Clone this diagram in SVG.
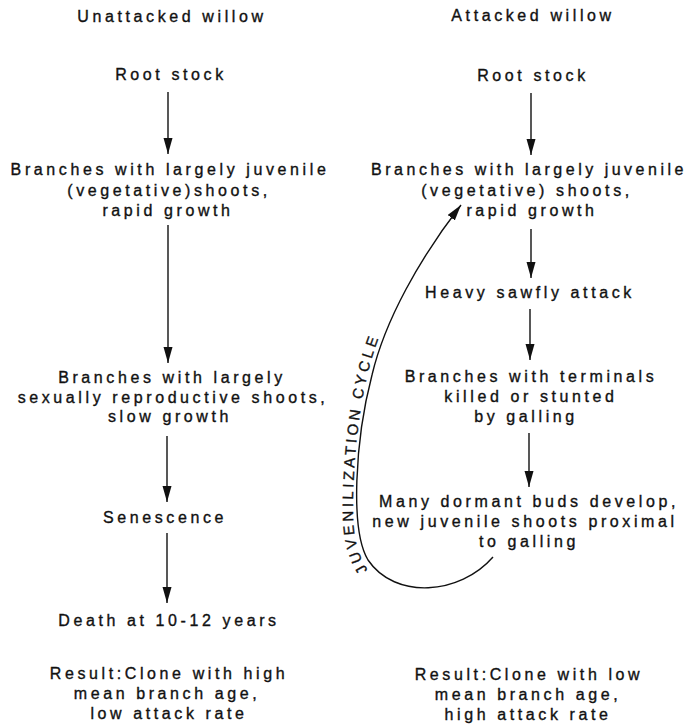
<svg xmlns="http://www.w3.org/2000/svg" xmlns:xlink="http://www.w3.org/1999/xlink" width="687" height="724" viewBox="0 0 687 724">
<style>
  text { font-family: "Liberation Sans", Arial, Helvetica, sans-serif; font-size: 16px; letter-spacing: 3.6px; fill: #111; stroke: #111; stroke-width: 0.35px; text-anchor: middle; }
  .lbl { font-size: 15px; letter-spacing: 3.3px; text-anchor: start; }
  .tight { letter-spacing: 3.5px; }
  .arr { stroke: #111; stroke-width: 1.4; fill: none; marker-end: url(#ah); }
</style>
<defs>
  <marker id="ah" markerUnits="userSpaceOnUse" markerWidth="18" markerHeight="10" refX="16" refY="4.5" orient="auto">
    <path d="M0,0 L16,4.5 L0,9 z" fill="#111"/>
  </marker>
  <path id="cyclePath" d="M 376,579 C 362,567 353,545 353,510 C 353,460 359,410 368,372 C 372,357 376,345 381,332 C 384,325 387,318 390,312"/>
</defs>
<rect width="687" height="724" fill="#fff"/>

<g id="connectors">
  <line class="arr" x1="168" y1="92" x2="168" y2="154"/>
  <line class="arr" x1="168" y1="225" x2="168" y2="363"/>
  <line class="arr" x1="167" y1="436" x2="167" y2="502"/>
  <line class="arr" x1="167" y1="533" x2="167" y2="603"/>
  <line class="arr" x1="531" y1="93" x2="531" y2="155"/>
  <line class="arr" x1="531" y1="229" x2="531" y2="278"/>
  <line class="arr" x1="530" y1="309" x2="530" y2="360"/>
  <line class="arr" x1="529" y1="433" x2="529" y2="487"/>
  <path id="cycle" class="arr" d="M 493,557 C 460,595 395,600 368,560 C 350,530 355,440 372,375 C 385,320 420,258 461,205"/>
  <text class="lbl"><textPath xlink:href="#cyclePath" startOffset="12">JUVENILIZATION CYCLE</textPath></text>
</g>

<g id="left-title"><text x="172" y="22">Unattacked willow</text></g>
<g id="left-root"><text x="171" y="80">Root stock</text></g>
<g id="left-juvenile">
  <text x="170" y="175">Branches with largely juvenile</text>
  <text x="169" y="196">(vegetative)shoots,</text>
  <text x="168" y="216">rapid growth</text>
</g>
<g id="left-reproductive">
  <text x="172" y="383">Branches with largely</text>
  <text x="173" y="403">sexually reproductive shoots,</text>
  <text x="170" y="422">slow growth</text>
</g>
<g id="left-senescence"><text x="165" y="523">Senescence</text></g>
<g id="left-death"><text x="169" y="626">Death at 10-12 years</text></g>
<g id="left-result">
  <text x="169" y="679">Result:Clone with high</text>
  <text x="167" y="699">mean branch age,</text>
  <text x="169" y="719">low attack rate</text>
</g>

<g id="right-title"><text x="533" y="21">Attacked willow</text></g>
<g id="right-root"><text x="533" y="81">Root stock</text></g>
<g id="right-juvenile">
  <text class="tight" x="529" y="175">Branches with largely juvenile</text>
  <text x="527" y="196">(vegetative) shoots,</text>
  <text x="532" y="216">rapid growth</text>
</g>
<g id="right-sawfly"><text x="530" y="298">Heavy sawfly attack</text></g>
<g id="right-terminals">
  <text x="531" y="382">Branches with terminals</text>
  <text x="531" y="402">killed or stunted</text>
  <text x="526" y="422">by galling</text>
</g>
<g id="right-dormant">
  <text x="529" y="507">Many dormant buds develop,</text>
  <text x="525" y="527">new juvenile shoots proximal</text>
  <text x="529" y="547">to galling</text>
</g>
<g id="right-result">
  <text x="529" y="680">Result:Clone with low</text>
  <text x="528" y="700">mean branch age,</text>
  <text x="528" y="720">high attack rate</text>
</g>
</svg>
